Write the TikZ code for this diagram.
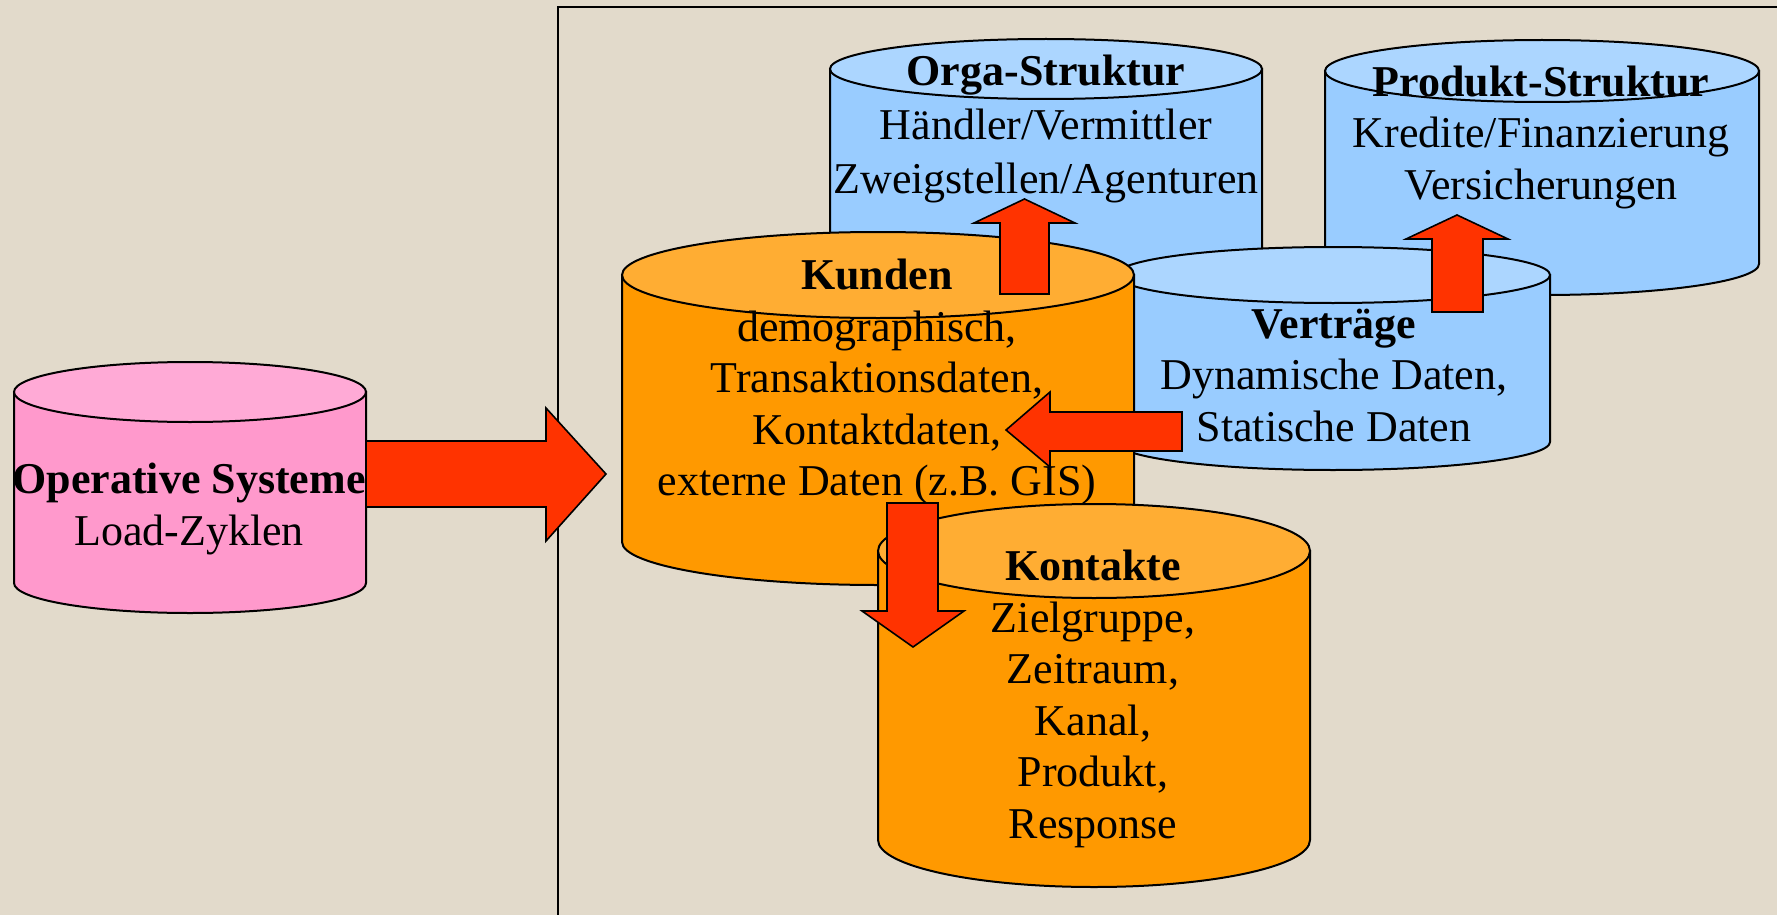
\documentclass[tikz,border=0pt]{standalone}
\usepackage{fontspec}
\setmainfont{Liberation Serif}
\definecolor{bgc}{RGB}{226,218,203}
\definecolor{pinkbody}{RGB}{255,153,204}
\definecolor{pinktop}{RGB}{255,170,214}
\definecolor{bluebody}{RGB}{153,204,255}
\definecolor{bluetop}{RGB}{172,214,255}
\definecolor{orabody}{RGB}{255,153,0}
\definecolor{oratop}{RGB}{255,173,51}
\definecolor{arrred}{RGB}{255,51,0}
\newcommand\dbcyl[7]{% cx, rx, top cy, ry, bottom cy, body colour, top colour
  \filldraw[fill=#6,cylline] (#1-#2,#3) -- (#1-#2,#5)
     arc[start angle=180,end angle=360,x radius=#2pt,y radius=#4pt] -- (#1+#2,#3) -- cycle;
  \filldraw[fill=#7,cylline] (#1,#3) ellipse[x radius=#2pt,y radius=#4pt];
}
\tikzset{
  cylline/.style={draw=black,line width=2pt},
  txt/.style={align=center,inner sep=0pt,font=\fontsize{44}{51.5}\selectfont},
  txtwide/.style={align=center,inner sep=0pt,font=\fontsize{44}{54}\selectfont},
  blockarrow/.style={fill=arrred,draw=black,line width=1.6pt,line join=miter},
}
\begin{document}
\begin{tikzpicture}[x=1pt,y=-1pt]
\useasboundingbox (0,0) rectangle (1777,915);
\fill[bgc] (0,0) rectangle (1777,915);
% frame
\draw[line width=2pt] (558,916) -- (558,7) -- (1778,7);
% Orga-Struktur
\dbcyl{1046}{216}{69}{30}{300}{bluebody}{bluetop}
\node[txtwide] (orga) at (1046,129) {\textbf{Orga-Struktur}\\Händler/Vermittler\\Zweigstellen/Agenturen};
% Produkt-Struktur
\dbcyl{1542}{217}{71}{31}{264}{bluebody}{bluetop}
\node[txt] (produkt) at (1541,137) {\textbf{Produkt-Struktur}\\Kredite/Finanzierung\\Versicherungen};
% Vertraege
\dbcyl{1333}{217}{275}{28}{442}{bluebody}{bluetop}
\node[txt] (vertraege) at (1334,375) {\textbf{Verträge}\\Dynamische Daten,\\Statische Daten};
% Kunden
\dbcyl{878}{256}{275}{43}{542}{orabody}{oratop}
\node[txt] (kunden) at (877,382) {\textbf{Kunden}\\demographisch,\\Transaktionsdaten,\\Kontaktdaten,\\externe Daten (z.B. GIS)};
% Kontakte
\dbcyl{1094}{216}{551}{47}{840}{orabody}{oratop}
\node[txt] (kontakte) at (1093,699) {\textbf{Kontakte}\\Zielgruppe,\\Zeitraum,\\Kanal,\\Produkt,\\Response};
% Operative Systeme
\dbcyl{190}{176}{392}{30}{583}{pinkbody}{pinktop}
\node[txt] (operativ) at (189,509) {\textbf{Operative Systeme}\\Load-Zyklen};
% block arrows
\filldraw[blockarrow] (366,441) -- (546,441) -- (546,408) -- (606,474) -- (546,541) -- (546,507) -- (366,507) -- cycle;
\filldraw[blockarrow] (1000,294) -- (1000,223) -- (974,223) -- (1024.5,199) -- (1075,223) -- (1049,223) -- (1049,294) -- cycle;
\filldraw[blockarrow] (1432,312) -- (1432,239) -- (1406,239) -- (1457,215) -- (1508,239) -- (1483,239) -- (1483,312) -- cycle;
\filldraw[blockarrow] (1182,412) -- (1050,412) -- (1050,392) -- (1006,430) -- (1050,467) -- (1050,451) -- (1182,451) -- cycle;
\filldraw[blockarrow] (887,503) -- (887,611) -- (862,611) -- (913,647) -- (964,611) -- (938,611) -- (938,503) -- cycle;
\end{tikzpicture}
\end{document}
